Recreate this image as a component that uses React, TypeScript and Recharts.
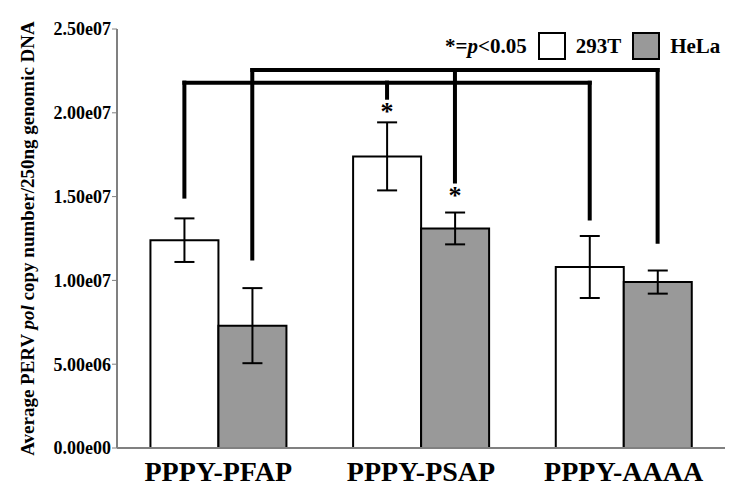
import React from "react";
import { BarChart, Bar, XAxis, YAxis, ErrorBar, ReferenceLine, ReferenceDot } from "recharts";

// values
const categories = ["PPPY-PFAP", "PPPY-PSAP", "PPPY-AAAA"];
const seriesNames = ["293T", "HeLa"];
const values293T = [12.4e6, 17.4e6, 10.8e6];
const err293T = [1.3e6, 2.03e6, 1.85e6];
const valuesHeLa = [7.3e6, 13.1e6, 9.9e6];
const errHeLa = [2.24e6, 0.95e6, 0.69e6];
const yTicks = [0, 5e6, 1e7, 1.5e7, 2e7, 2.5e7];
const yTickLabels = ["0.00e00", "5.00e06", "1.00e07", "1.50e07", "2.00e07", "2.50e07"];

// significance brackets (height of the bar joining, and where each drop stops)
const bracket293TLevel = 21.8e6;
const bracket293TEnds = [15.0e6, 20.9e6, 13.7e6];
const bracketHeLaLevel = 22.55e6;
const bracketHeLaEnds = [11.3e6, 15.9e6, 12.3e6];
const star293T = [null, 20.3e6, null];
const starHeLa = [null, 15.3e6, null];

const data = categories.map((name, i) => ({
  name,
  pos: i + 0.5,
  t293: values293T[i],
  e293: err293T[i],
  hela: valuesHeLa[i],
  ehela: errHeLa[i],
}));

const GAP = 0.165;
const shift = (1 - 2 * GAP) / 4;
const xWhite = (i: number) => i + 0.5 - shift;
const xGrey = (i: number) => i + 0.5 + shift;

const FONT = '"Liberation Serif", "Times New Roman", serif';
const GREY = "#999999";

function bracketLines(level: number, ends: number[], xAt: (i: number) => number, key: string) {
  const last = ends.length - 1;
  const lines = [
    <ReferenceLine
      key={key + "h"}
      xAxisId="pos"
      ifOverflow="visible"
      segment={[{ x: xAt(0), y: level }, { x: xAt(last), y: level }]}
      stroke="#000"
      strokeWidth={4}
      strokeLinecap="square"
    />,
  ];
  ends.forEach((end, i) => {
    lines.push(
      <ReferenceLine
        key={key + i}
        xAxisId="pos"
        ifOverflow="visible"
        segment={[{ x: xAt(i), y: level }, { x: xAt(i), y: end }]}
        stroke="#000"
        strokeWidth={4}
        strokeLinecap="square"
      />
    );
  });
  return lines;
}

function stars(list: (number | null)[], xAt: (i: number) => number, key: string) {
  return list.map((v, i) =>
    v == null ? null : (
      <ReferenceDot
        key={key + i}
        xAxisId="pos"
        ifOverflow="visible"
        x={xAt(i)}
        y={v}
        r={0}
        shape={(p: any) => (
          <text x={p.cx} y={p.cy} dy={12} textAnchor="middle" fontFamily={FONT} fontWeight="bold" fontSize={26} fill="#000">
            *
          </text>
        )}
      />
    )
  );
}

const CategoryTick = (props: any) => {
  const { x, y, payload } = props;
  return (
    <text x={x} y={y} dy={33} textAnchor="middle" fontFamily={FONT} fontWeight="bold" fontSize={28} fill="#000">
      {payload.value}
    </text>
  );
};

const YLabel = (props: any) => {
  const vb = props.viewBox || { x: 0, y: 29, width: 117, height: 419 };
  const cx = vb.x + 34;
  const cy = vb.y + vb.height / 2;
  return (
    <text
      x={cx}
      y={cy}
      transform={`rotate(-90, ${cx}, ${cy})`}
      textAnchor="middle"
      fontFamily={FONT}
      fontWeight="bold"
      fontSize={19}
      fill="#000"
    >
      Average PERV <tspan fontStyle="italic">pol</tspan> copy number/250ng genomic DNA
    </text>
  );
};

const box = (fill: string) => (
  <span style={{ display: "inline-block", width: 24, height: 24, border: "2px solid #000", background: fill }} />
);

export default function App() {
  return (
    <div style={{ position: "absolute", left: 0, top: 0, width: 750, height: 493, background: "#fff" }}>
      <BarChart
        width={750}
        height={493}
        data={data}
        margin={{ top: 29, right: 25, bottom: 0, left: 0 }}
        barCategoryGap={`${GAP * 100}%`}
        barGap={0}
      >
        <XAxis
          dataKey="name"
          height={45}
          tickLine={false}
          tickSize={0}
          tickMargin={0}
          axisLine={{ stroke: "#808080", strokeWidth: 2 }}
          tick={<CategoryTick />}
        />
        <XAxis
          xAxisId="pos"
          dataKey="pos"
          type="number"
          scale="linear"
          orientation="top"
          domain={[0, 3]}
          allowDataOverflow
          height={0}
          tick={false}
          tickLine={false}
          axisLine={{ stroke: "#222", strokeWidth: 1.5 }}
        />
        <YAxis
          width={117}
          domain={[0, 2.5e7]}
          ticks={yTicks}
          interval={0}
          tickSize={5}
          tickMargin={1}
          tickLine={{ stroke: "#808080" }}
          axisLine={{ stroke: "#808080", strokeWidth: 2 }}
          tickFormatter={(v: number) => yTickLabels[yTicks.indexOf(v)]}
          tick={{ fontFamily: FONT, fontWeight: "bold", fontSize: 18, fill: "#000" }}
          label={{ content: <YLabel /> }}
        />
        <YAxis
          yAxisId="border"
          orientation="right"
          width={0}
          domain={[0, 2.5e7]}
          tick={false}
          tickLine={false}
          axisLine={{ stroke: "#808080", strokeWidth: 1.5 }}
        />
        <Bar dataKey="t293" name={seriesNames[0]} fill="#ffffff" stroke="#000" strokeWidth={2} isAnimationActive={false}>
          <ErrorBar dataKey="e293" width={10} stroke="#000" strokeWidth={2} />
        </Bar>
        <Bar dataKey="hela" name={seriesNames[1]} fill={GREY} stroke="#000" strokeWidth={2} isAnimationActive={false}>
          <ErrorBar dataKey="ehela" width={10} stroke="#000" strokeWidth={2} />
        </Bar>
        {bracketLines(bracket293TLevel, bracket293TEnds, xWhite, "b1")}
        {bracketLines(bracketHeLaLevel, bracketHeLaEnds, xGrey, "b2")}
        {stars(star293T, xWhite, "s1")}
        {stars(starHeLa, xGrey, "s2")}
      </BarChart>
      <div
        style={{
          position: "absolute",
          left: 445,
          top: 33,
          height: 26,
          display: "flex",
          alignItems: "center",
          fontFamily: FONT,
          fontWeight: "bold",
          fontSize: 21,
          color: "#000",
          whiteSpace: "nowrap",
        }}
      >
        <span>
          *=<i>p</i>&lt;0.05
        </span>
        <span style={{ width: 11 }} />
        {box("#fff")}
        <span style={{ width: 10 }} />
        <span>{seriesNames[0]}</span>
        <span style={{ width: 11 }} />
        {box(GREY)}
        <span style={{ width: 10 }} />
        <span>{seriesNames[1]}</span>
      </div>
    </div>
  );
}
